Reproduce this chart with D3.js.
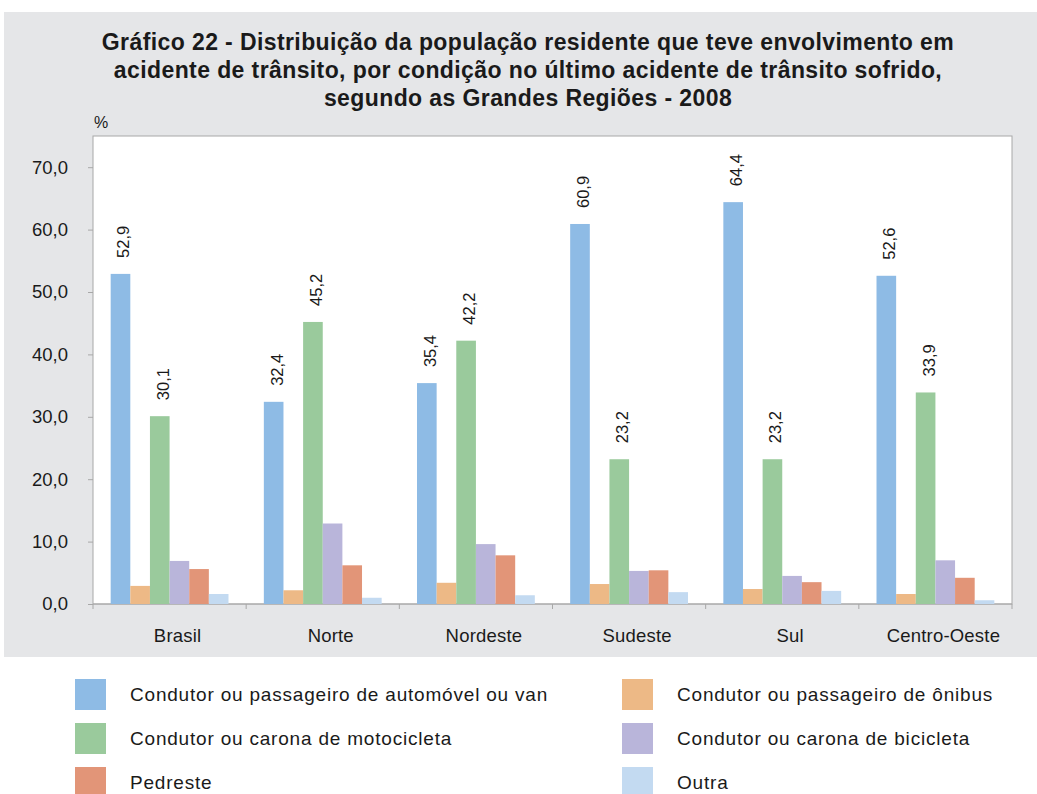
<!DOCTYPE html>
<html>
<head>
<meta charset="utf-8">
<script src="https://cdn.jsdelivr.net/npm/d3@7"></script>
<style>
  html, body { margin: 0; padding: 0; background: #ffffff; }
  svg { display: block; font-family: "Liberation Sans", Arial, sans-serif; }
</style>
</head>
<body>
<svg id="chart" width="1037" height="794"></svg>
<script>
// Regions (categories)
const regions = ["Brasil", "Norte", "Nordeste", "Sudeste", "Sul", "Centro-Oeste"];

// Condition in the last traffic accident (series)
const seriesNames = [
  "Condutor ou passageiro de automóvel ou van",
  "Condutor ou passageiro de ônibus",
  "Condutor ou carona de motocicleta",
  "Condutor ou carona de bicicleta",
  "Pedreste",
  "Outra"
];

// Percentages per series, one value per region
const automovel  = [52.9, 32.4, 35.4, 60.9, 64.4, 52.6];
const onibus     = [2.9, 2.2, 3.4, 3.2, 2.4, 1.6];
const motocicleta = [30.1, 45.2, 42.2, 23.2, 23.2, 33.9];
const bicicleta  = [6.9, 12.9, 9.6, 5.3, 4.5, 7.0];
const pedestre   = [5.6, 6.2, 7.8, 5.4, 3.5, 4.2];
const outra      = [1.6, 1.0, 1.4, 1.9, 2.1, 0.6];

// Which series carry a value label above their bars
const labelled = [true, false, true, false, false, false];

// Y-axis tick values
const yTicks = [0, 10, 20, 30, 40, 50, 60, 70];

const colors = ["#8EBBE5", "#EDB986", "#9ACA9C", "#B9B5DA", "#E29578", "#C3DAF1"];
const allSeries = [automovel, onibus, motocicleta, bicicleta, pedestre, outra];

const svg = d3.select("#chart");
const fmt = v => d3.format(".1f")(v).replace(".", ",");

// Panel background
svg.append("rect").attr("x", 4).attr("y", 12).attr("width", 1033).attr("height", 645)
  .attr("fill", "#E5E6E8");

// Title
const titleLines = [
  "Gráfico 22 - Distribuição da população residente que teve envolvimento em",
  "acidente de trânsito, por condição no último acidente de trânsito sofrido,",
  "segundo as Grandes Regiões - 2008"
];
svg.append("text")
  .attr("x", 528).attr("y", 50)
  .attr("text-anchor", "middle")
  .attr("font-size", 23).attr("font-weight", "bold").attr("fill", "#1a1a1a")
  .attr("letter-spacing", 0.4)
  .selectAll("tspan").data(titleLines).join("tspan")
  .attr("x", 528).attr("dy", (d, i) => i === 0 ? 0 : 28)
  .text(d => d);

// Plot area
const plot = { left: 93, right: 1012, top: 136, bottom: 604 };

svg.append("rect")
  .attr("x", plot.left).attr("y", plot.top)
  .attr("width", plot.right - plot.left).attr("height", plot.bottom - plot.top)
  .attr("fill", "#ffffff").attr("stroke", "#A8A8A8").attr("stroke-width", 1);

const x0 = d3.scaleBand().domain(regions).range([plot.left, plot.right]).paddingInner(0).paddingOuter(0);
const x1 = d3.scaleBand().domain(d3.range(seriesNames.length))
  .range([0, x0.bandwidth()]).paddingInner(0).paddingOuter(0.9);
const y = d3.scaleLinear().domain([0, 75]).range([plot.bottom, plot.top]);

// Y axis
const yAxis = d3.axisLeft(y).tickValues(yTicks).tickFormat(fmt).tickSize(5).tickPadding(20);
const gy = svg.append("g").attr("transform", `translate(${plot.left},0)`).call(yAxis);
gy.select(".domain").remove();
gy.selectAll(".tick line").attr("stroke", "#A8A8A8");
gy.selectAll(".tick text").attr("font-size", 18.5).attr("fill", "#1a1a1a")
  .attr("font-family", "'Liberation Sans', Arial, sans-serif");

// X axis with ticks at the band boundaries
const gx = svg.append("g").attr("transform", `translate(0,${plot.bottom})`);
gx.append("line").attr("x1", plot.left).attr("x2", plot.right)
  .attr("stroke", "#A8A8A8");
const boundaries = regions.map(r => x0(r)).concat([plot.right]);
gx.selectAll("line.bt").data(boundaries).join("line").attr("class", "bt")
  .attr("x1", d => d).attr("x2", d => d).attr("y1", 0).attr("y2", 5)
  .attr("stroke", "#A8A8A8");
gx.selectAll("text").data(regions).join("text")
  .attr("x", d => x0(d) + x0.bandwidth() / 2 + 8)
  .attr("y", 38)
  .attr("text-anchor", "middle")
  .attr("font-size", 18.5).attr("fill", "#1a1a1a")
  .attr("letter-spacing", 0.2)
  .text(d => d);

// "%" unit label
svg.append("text").attr("x", 94).attr("y", 128)
  .attr("font-size", 16).attr("fill", "#1a1a1a").text("%");

// Bars
const groups = svg.append("g").selectAll("g").data(regions).join("g")
  .attr("transform", d => `translate(${x0(d)},0)`);

groups.selectAll("rect")
  .data((r, ri) => allSeries.map((s, si) => ({ si, v: s[ri] })))
  .join("rect")
  .attr("x", d => x1(d.si))
  .attr("width", x1.bandwidth())
  .attr("y", d => y(d.v))
  .attr("height", d => y(0) - y(d.v))
  .attr("fill", d => colors[d.si]);

// Value labels (rotated) on the car and motorcycle series
groups.selectAll("text.val")
  .data((r, ri) => allSeries.map((s, si) => ({ si, v: s[ri] })).filter(d => labelled[d.si]))
  .join("text").attr("class", "val")
  .attr("transform", d => {
    const cx = x1(d.si) + x1.bandwidth() / 2 + 3;
    const cy = y(d.v) - 16;
    return `translate(${cx},${cy}) rotate(-90)`;
  })
  .attr("dy", "0.36em")
  .attr("font-size", 16.5).attr("fill", "#1a1a1a")
  .text(d => fmt(d.v));

// Legend
const legendPos = [
  { x: 75, y: 679 }, { x: 622, y: 679 },
  { x: 75, y: 723 }, { x: 622, y: 723 },
  { x: 75, y: 767 }, { x: 622, y: 767 }
];
const leg = svg.append("g").selectAll("g").data(seriesNames).join("g")
  .attr("transform", (d, i) => `translate(${legendPos[i].x},${legendPos[i].y})`);
leg.append("rect").attr("width", 31).attr("height", 31).attr("fill", (d, i) => colors[i]);
leg.append("text").attr("x", 55).attr("y", 22)
  .attr("font-size", 19).attr("letter-spacing", 0.8).attr("fill", "#1a1a1a").text(d => d);
</script>
</body>
</html>
